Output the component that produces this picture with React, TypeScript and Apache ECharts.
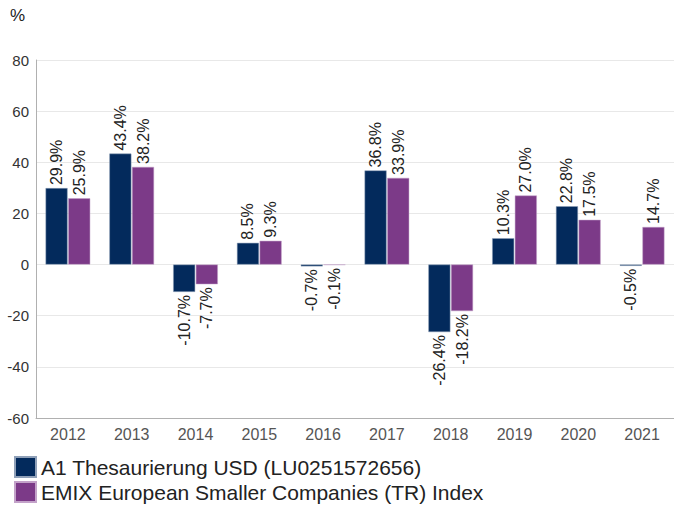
import React, { useEffect, useRef } from "react";
import * as echarts from "echarts";

const categories = ["2012", "2013", "2014", "2015", "2016", "2017", "2018", "2019", "2020", "2021"];
const fundName = "A1 Thesaurierung USD (LU0251572656)";
const indexName = "EMIX European Smaller Companies (TR) Index";
const fundValues = [29.9, 43.4, -10.7, 8.5, -0.7, 36.8, -26.4, 10.3, 22.8, -0.5];
const indexValues = [25.9, 38.2, -7.7, 9.3, -0.1, 33.9, -18.2, 27.0, 17.5, 14.7];
const yTicks = { min: -60, max: 80, interval: 20 };

const FONT = "'Liberation Sans', Arial, sans-serif";

function makeData(vals: number[]) {
  return vals.map((v) => ({
    value: v,
    label:
      v >= 0
        ? { position: "top", rotate: 90, align: "left", verticalAlign: "middle", distance: 3 }
        : { position: "bottom", rotate: 90, align: "right", verticalAlign: "middle", distance: 3 },
  }));
}

export default function App() {
  const ref = useRef<HTMLDivElement>(null);
  useEffect(() => {
    if (!ref.current) return;
    const chart = echarts.init(ref.current, undefined, { renderer: "svg" });
    const labelStyle = {
      show: true,
      fontFamily: FONT,
      fontSize: 16,
      color: "#222",
      formatter: (p: any) => p.value.toFixed(1) + "%",
    };
    const legendBase = {
      orient: "vertical",
      left: 14,
      padding: 0,
      icon: "rect",
      itemWidth: 21,
      itemHeight: 20,
      itemGap: 5,
      textStyle: { fontSize: 21, lineHeight: 22, color: "#222", fontFamily: FONT },
    };
    chart.setOption({
      animation: false,
      textStyle: { fontFamily: FONT },
      graphic: [
        {
          type: "text",
          left: 10,
          top: 7,
          style: { text: "%", fontSize: 17, fill: "#222", fontFamily: FONT },
        },
      ],
      legend: [
        { ...legendBase, top: 456, data: [fundName] },
        { ...legendBase, top: 481, data: [indexName] },
      ],
      grid: { left: 36, right: -5, top: 60, bottom: 88, containLabel: false },
      xAxis: {
        type: "category",
        data: categories,
        axisLine: { onZero: false, lineStyle: { color: "#b0b0b0", width: 1 } },
        axisTick: { show: false },
        axisLabel: { color: "#555", fontSize: 16, margin: 8, fontFamily: FONT },
      },
      yAxis: {
        type: "value",
        min: yTicks.min,
        max: yTicks.max,
        interval: yTicks.interval,
        axisLine: { show: true, lineStyle: { color: "#b0b0b0", width: 1 } },
        axisTick: { show: false },
        axisLabel: { color: "#333", fontSize: 15, margin: 7, fontFamily: FONT },
        splitLine: { lineStyle: { color: "#e8e8e8", width: 1 } },
      },
      series: [
        {
          name: fundName,
          type: "bar",
          data: makeData(fundValues),
          barWidth: 22,
          barGap: "3%",
          itemStyle: { color: "#032a5c", borderColor: "#8fa0b8", borderWidth: 0.5 },
          label: labelStyle,
        },
        {
          name: indexName,
          type: "bar",
          data: makeData(indexValues),
          barWidth: 22,
          itemStyle: { color: "#7c3a88", borderColor: "#c3a2c9", borderWidth: 0.5 },
          label: labelStyle,
        },
      ],
    });
    return () => chart.dispose();
  }, []);
  return (
    <div
      ref={ref}
      style={{ position: "absolute", left: 0, top: 0, width: 674, height: 506 }}
    />
  );
}
